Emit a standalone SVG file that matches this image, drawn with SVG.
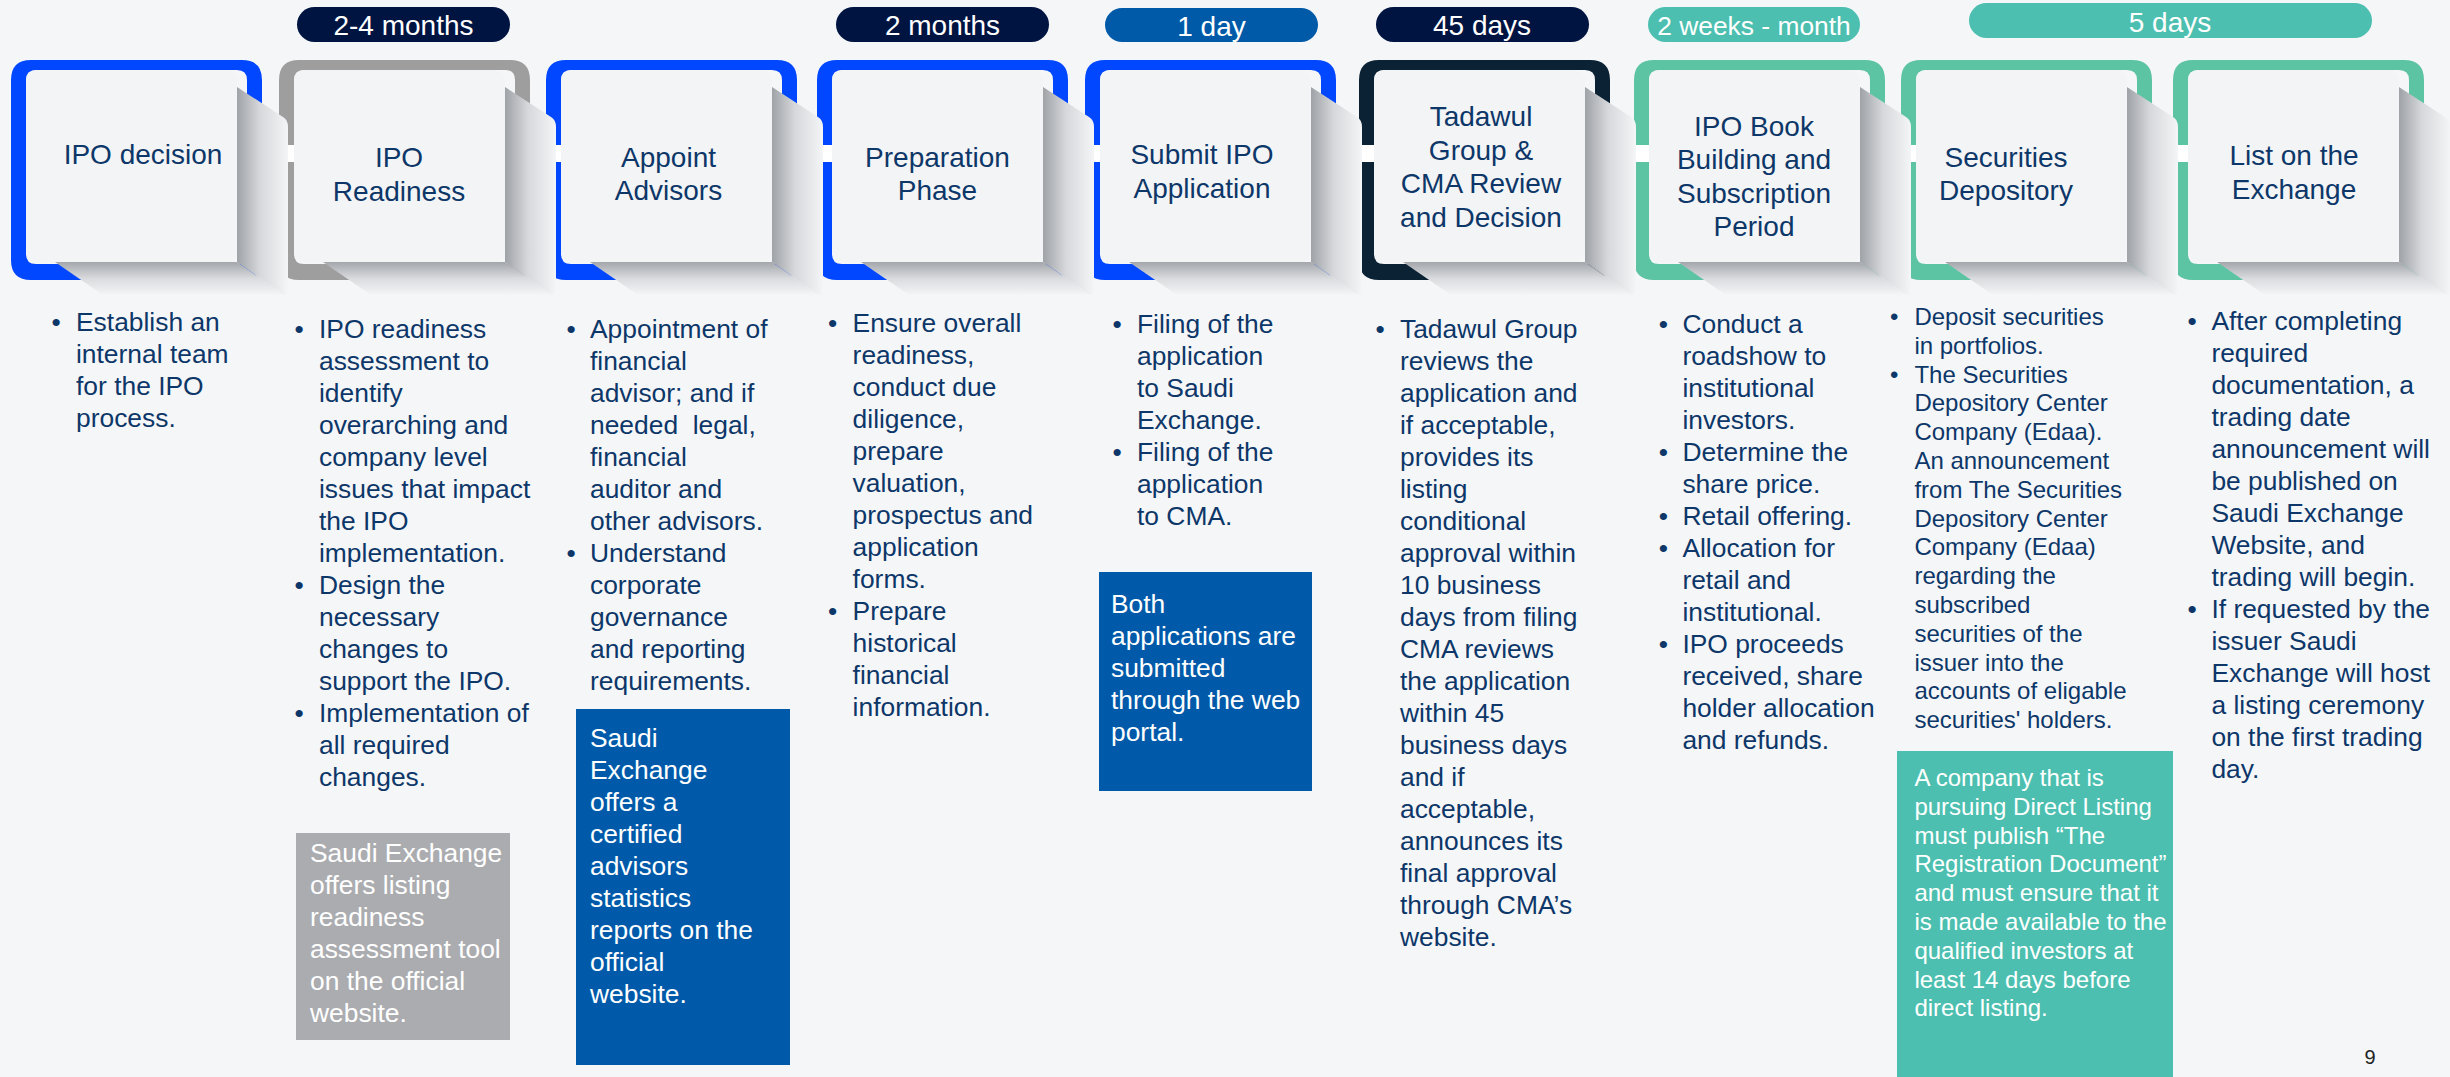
<svg xmlns="http://www.w3.org/2000/svg" xmlns:xlink="http://www.w3.org/1999/xlink" width="2450" height="1077" viewBox="0 0 2450 1077">
<style>
.f{font-family:"Liberation Sans",Arial,sans-serif}
.title{font-size:28px;fill:#0d3768;text-anchor:middle}
.b{font-size:26.4px;fill:#0d3768}
.s{font-size:24px;fill:#0d3768}
.bul{text-anchor:middle}
.w{fill:#ffffff}
.pt{font-size:28px;fill:#ffffff;text-anchor:middle}
.card{fill:#f3f4f6}
</style>
<defs>
<linearGradient id="gR" x1="0" y1="0" x2="1" y2="0">
<stop offset="0" stop-color="#9fa2a7"/>
<stop offset="0.45" stop-color="#d6d8db"/>
<stop offset="1" stop-color="#f4f5f7"/>
</linearGradient>
<linearGradient id="gB" x1="0" y1="0" x2="0" y2="1">
<stop offset="0" stop-color="#a3a6ab"/>
<stop offset="0.5" stop-color="#d9dbde"/>
<stop offset="1" stop-color="#f4f5f7"/>
</linearGradient>
<path id="frame" fill-rule="evenodd" d="M20,60 H231 Q251,60 251,80 V260 Q251,280 231,280 H20 Q0,280 0,260 V80 Q0,60 20,60 Z M25,70 H226 Q236,70 236,80 V254 Q236,264 226,264 H25 Q15,264 15,254 V80 Q15,70 25,70 Z"/>
<path id="shR" fill="url(#gR)" d="M226,87 L272,117 Q277,120 277,127 L277,284 Q277,295 273,295 L226,262 Z"/>
<path id="shB" fill="url(#gB)" d="M44,262 L226,262 L273,295 L92,295 Z"/>
<rect id="cardR" class="card" x="15" y="70" width="211" height="192" rx="10"/>
</defs>
<rect x="0" y="0" width="2450" height="1077" fill="#f5f6f8"/>

<g id="durations">
<g id="pill-2-4-months"><rect x="297" y="7" width="213" height="35" rx="17.5" fill="#001442"/><text class="f pt" x="403.5" y="35">2-4 months</text></g>
<g id="pill-2-months"><rect x="836" y="7" width="213" height="35" rx="17.5" fill="#001442"/><text class="f pt" x="942.5" y="35">2 months</text></g>
<g id="pill-1-day"><rect x="1105" y="8" width="213" height="34" rx="17" fill="#005aa8"/><text class="f pt" x="1211.5" y="35.5">1 day</text></g>
<g id="pill-45-days"><rect x="1376" y="7" width="213" height="35" rx="17.5" fill="#001442"/><text class="f pt" x="1482" y="35">45 days</text></g>
<g id="pill-2-weeks"><rect x="1648" y="7" width="212" height="35" rx="17.5" fill="#4cbfb0"/><text class="f pt" x="1754" y="35" style="font-size:26.4px">2 weeks - month</text></g>
<g id="pill-5-days"><rect x="1969" y="3" width="403" height="35" rx="17.5" fill="#4cbfb0"/><text class="f pt" x="2170" y="31.5">5 days</text></g>
</g>

<g id="node-list-exchange">
<use xlink:href="#frame" x="2173" fill="#5cc3a3"/><use xlink:href="#shR" x="2173"/><use xlink:href="#shB" x="2173"/><use xlink:href="#cardR" x="2173"/>
<text class="f title"><tspan x="2294" y="165">List on the</tspan><tspan x="2294" y="198.5">Exchange</tspan></text>
</g>
<g id="node-securities-depository">
<use xlink:href="#frame" x="1901" fill="#5cc3a3"/><use xlink:href="#shR" x="1901"/><use xlink:href="#shB" x="1901"/><use xlink:href="#cardR" x="1901"/>
<text class="f title"><tspan x="2006" y="166.7">Securities</tspan><tspan x="2006" y="199.5">Depository</tspan></text>
</g>
<g id="node-book-building">
<use xlink:href="#frame" x="1634" fill="#5cc3a3"/><use xlink:href="#shR" x="1634"/><use xlink:href="#shB" x="1634"/><use xlink:href="#cardR" x="1634"/>
<text class="f title"><tspan x="1754" y="135.7">IPO Book</tspan><tspan x="1754" y="169.2">Building and</tspan><tspan x="1754" y="202.7">Subscription</tspan><tspan x="1754" y="236.2">Period</tspan></text>
</g>
<g id="node-review-decision">
<use xlink:href="#frame" x="1359" fill="#0b2235"/><use xlink:href="#shR" x="1359"/><use xlink:href="#shB" x="1359"/><use xlink:href="#cardR" x="1359"/>
<text class="f title"><tspan x="1481" y="126">Tadawul</tspan><tspan x="1481" y="159.5">Group &amp;</tspan><tspan x="1481" y="193">CMA Review</tspan><tspan x="1481" y="226.5">and Decision</tspan></text>
</g>
<g id="node-submit-application">
<use xlink:href="#frame" x="1085" fill="#0047ff"/><use xlink:href="#shR" x="1085"/><use xlink:href="#shB" x="1085"/><use xlink:href="#cardR" x="1085"/>
<text class="f title"><tspan x="1202" y="164">Submit IPO</tspan><tspan x="1202" y="197.5">Application</tspan></text>
</g>
<g id="node-preparation">
<use xlink:href="#frame" x="817" fill="#0047ff"/><use xlink:href="#shR" x="817"/><use xlink:href="#shB" x="817"/><use xlink:href="#cardR" x="817"/>
<text class="f title"><tspan x="937.5" y="166.7">Preparation</tspan><tspan x="937.5" y="199.5">Phase</tspan></text>
</g>
<g id="node-appoint-advisors">
<use xlink:href="#frame" x="546" fill="#0047ff"/><use xlink:href="#shR" x="546"/><use xlink:href="#shB" x="546"/><use xlink:href="#cardR" x="546"/>
<text class="f title"><tspan x="668.5" y="166.7">Appoint</tspan><tspan x="668.5" y="199.5">Advisors</tspan></text>
</g>
<g id="node-ipo-readiness">
<use xlink:href="#frame" x="279" fill="#9e9e9e"/><use xlink:href="#shR" x="279"/><use xlink:href="#shB" x="279"/><use xlink:href="#cardR" x="279"/>
<text class="f title"><tspan x="399" y="166.7">IPO</tspan><tspan x="399" y="200.5">Readiness</tspan></text>
</g>
<g id="node-ipo-decision">
<use xlink:href="#frame" x="11" fill="#0047ff"/><use xlink:href="#shR" x="11"/><use xlink:href="#shB" x="11"/><use xlink:href="#cardR" x="11"/>
<text class="f title"><tspan x="143" y="164">IPO decision</tspan></text>
</g>

<g id="connectors" fill="#ffffff">
<rect x="288" y="145" width="6" height="17"/>
<rect x="556" y="145" width="5" height="17"/>
<rect x="823" y="145" width="9" height="17"/>
<rect x="1094" y="145" width="6" height="17"/>
<rect x="1362" y="145" width="12" height="17"/>
<rect x="1636" y="145" width="13" height="17"/>
<rect x="1911" y="145" width="5" height="17"/>
<rect x="2178" y="145" width="10" height="17"/>
</g>

<g id="details-1">
<text class="f b bul" x="56" y="331">•</text>
<text class="f b"><tspan x="76" y="331">Establish an</tspan><tspan x="76" y="363">internal team</tspan><tspan x="76" y="395">for the IPO</tspan><tspan x="76" y="427">process.</tspan></text>
</g>
<g id="details-2">
<text class="f b bul"><tspan x="299" y="338">•</tspan><tspan x="299" y="594">•</tspan><tspan x="299" y="722">•</tspan></text>
<text class="f b"><tspan x="319" y="338">IPO readiness</tspan><tspan x="319" y="370">assessment to</tspan><tspan x="319" y="402">identify</tspan><tspan x="319" y="434">overarching and</tspan><tspan x="319" y="466">company level</tspan><tspan x="319" y="498">issues that impact</tspan><tspan x="319" y="530">the IPO</tspan><tspan x="319" y="562">implementation.</tspan><tspan x="319" y="594">Design the</tspan><tspan x="319" y="626">necessary</tspan><tspan x="319" y="658">changes to</tspan><tspan x="319" y="690">support the IPO.</tspan><tspan x="319" y="722">Implementation of</tspan><tspan x="319" y="754">all required</tspan><tspan x="319" y="786">changes.</tspan></text>
</g>
<g id="note-readiness-tool">
<rect x="296" y="833" width="214" height="207" fill="#abacb0"/>
<text class="f b w"><tspan x="310" y="862">Saudi Exchange</tspan><tspan x="310" y="894">offers listing</tspan><tspan x="310" y="926">readiness</tspan><tspan x="310" y="958">assessment tool</tspan><tspan x="310" y="990">on the official</tspan><tspan x="310" y="1022">website.</tspan></text>
</g>
<g id="details-3">
<text class="f b bul"><tspan x="571" y="338">•</tspan><tspan x="571" y="562">•</tspan></text>
<text class="f b"><tspan x="590" y="338">Appointment of</tspan><tspan x="590" y="370">financial</tspan><tspan x="590" y="402">advisor; and if</tspan><tspan x="590" y="434">needed&#160; legal,</tspan><tspan x="590" y="466">financial</tspan><tspan x="590" y="498">auditor and</tspan><tspan x="590" y="530">other advisors.</tspan><tspan x="590" y="562">Understand</tspan><tspan x="590" y="594">corporate</tspan><tspan x="590" y="626">governance</tspan><tspan x="590" y="658">and reporting</tspan><tspan x="590" y="690">requirements.</tspan></text>
</g>
<g id="note-advisors-stats">
<rect x="576" y="709" width="214" height="356" fill="#005aa9"/>
<text class="f b w"><tspan x="590" y="747">Saudi</tspan><tspan x="590" y="779">Exchange</tspan><tspan x="590" y="811">offers a</tspan><tspan x="590" y="843">certified</tspan><tspan x="590" y="875">advisors</tspan><tspan x="590" y="907">statistics</tspan><tspan x="590" y="939">reports on the</tspan><tspan x="590" y="971">official</tspan><tspan x="590" y="1003">website.</tspan></text>
</g>
<g id="details-4">
<text class="f b bul"><tspan x="832.5" y="332">•</tspan><tspan x="832.5" y="620">•</tspan></text>
<text class="f b"><tspan x="852.6" y="332">Ensure overall</tspan><tspan x="852.6" y="364">readiness,</tspan><tspan x="852.6" y="396">conduct due</tspan><tspan x="852.6" y="428">diligence,</tspan><tspan x="852.6" y="460">prepare</tspan><tspan x="852.6" y="492">valuation,</tspan><tspan x="852.6" y="524">prospectus and</tspan><tspan x="852.6" y="556">application</tspan><tspan x="852.6" y="588">forms.</tspan><tspan x="852.6" y="620">Prepare</tspan><tspan x="852.6" y="652">historical</tspan><tspan x="852.6" y="684">financial</tspan><tspan x="852.6" y="716">information.</tspan></text>
</g>
<g id="details-5">
<text class="f b bul"><tspan x="1117" y="333">•</tspan><tspan x="1117" y="461">•</tspan></text>
<text class="f b"><tspan x="1137" y="333">Filing of the</tspan><tspan x="1137" y="365">application</tspan><tspan x="1137" y="397">to Saudi</tspan><tspan x="1137" y="429">Exchange.</tspan><tspan x="1137" y="461">Filing of the</tspan><tspan x="1137" y="493">application</tspan><tspan x="1137" y="525">to CMA.</tspan></text>
</g>
<g id="note-web-portal">
<rect x="1099" y="572" width="213" height="219" fill="#005aa9"/>
<text class="f b w"><tspan x="1111" y="613">Both</tspan><tspan x="1111" y="645">applications are</tspan><tspan x="1111" y="677">submitted</tspan><tspan x="1111" y="709">through the web</tspan><tspan x="1111" y="741">portal.</tspan></text>
</g>
<g id="details-6">
<text class="f b bul" x="1380" y="338">•</text>
<text class="f b"><tspan x="1400" y="338">Tadawul Group</tspan><tspan x="1400" y="370">reviews the</tspan><tspan x="1400" y="402">application and</tspan><tspan x="1400" y="434">if acceptable,</tspan><tspan x="1400" y="466">provides its</tspan><tspan x="1400" y="498">listing</tspan><tspan x="1400" y="530">conditional</tspan><tspan x="1400" y="562">approval within</tspan><tspan x="1400" y="594">10 business</tspan><tspan x="1400" y="626">days from filing</tspan><tspan x="1400" y="658">CMA reviews</tspan><tspan x="1400" y="690">the application</tspan><tspan x="1400" y="722">within 45</tspan><tspan x="1400" y="754">business days</tspan><tspan x="1400" y="786">and if</tspan><tspan x="1400" y="818">acceptable,</tspan><tspan x="1400" y="850">announces its</tspan><tspan x="1400" y="882">final approval</tspan><tspan x="1400" y="914">through CMA’s</tspan><tspan x="1400" y="946">website.</tspan></text>
</g>
<g id="details-7">
<text class="f b bul"><tspan x="1663.4" y="333">•</tspan><tspan x="1663.4" y="461">•</tspan><tspan x="1663.4" y="525">•</tspan><tspan x="1663.4" y="557">•</tspan><tspan x="1663.4" y="653">•</tspan></text>
<text class="f b"><tspan x="1682.4" y="333">Conduct a</tspan><tspan x="1682.4" y="365">roadshow to</tspan><tspan x="1682.4" y="397">institutional</tspan><tspan x="1682.4" y="429">investors.</tspan><tspan x="1682.4" y="461">Determine the</tspan><tspan x="1682.4" y="493">share price.</tspan><tspan x="1682.4" y="525">Retail offering.</tspan><tspan x="1682.4" y="557">Allocation for</tspan><tspan x="1682.4" y="589">retail and</tspan><tspan x="1682.4" y="621">institutional.</tspan><tspan x="1682.4" y="653">IPO proceeds</tspan><tspan x="1682.4" y="685">received, share</tspan><tspan x="1682.4" y="717">holder allocation</tspan><tspan x="1682.4" y="749">and refunds.</tspan></text>
</g>
<g id="details-8">
<text class="f s bul"><tspan x="1894.3" y="325">•</tspan><tspan x="1894.3" y="382.6">•</tspan></text>
<text class="f s"><tspan x="1914.4" y="325">Deposit securities</tspan><tspan x="1914.4" y="353.8">in portfolios.</tspan><tspan x="1914.4" y="382.6">The Securities</tspan><tspan x="1914.4" y="411.4">Depository Center</tspan><tspan x="1914.4" y="440.2">Company (Edaa).</tspan><tspan x="1914.4" y="469">An announcement</tspan><tspan x="1914.4" y="497.8">from The Securities</tspan><tspan x="1914.4" y="526.6">Depository Center</tspan><tspan x="1914.4" y="555.4">Company (Edaa)</tspan><tspan x="1914.4" y="584.2">regarding the</tspan><tspan x="1914.4" y="613">subscribed</tspan><tspan x="1914.4" y="641.8">securities of the</tspan><tspan x="1914.4" y="670.6">issuer into the</tspan><tspan x="1914.4" y="699.4">accounts of eligable</tspan><tspan x="1914.4" y="728.2">securities' holders.</tspan></text>
</g>
<g id="note-direct-listing">
<rect x="1897" y="751" width="276" height="326" fill="#4cbfb0"/>
<text class="f s w"><tspan x="1914.4" y="786">A company that is</tspan><tspan x="1914.4" y="814.8">pursuing Direct Listing</tspan><tspan x="1914.4" y="843.6">must publish “The</tspan><tspan x="1914.4" y="872.4">Registration Document”</tspan><tspan x="1914.4" y="901.2">and must ensure that it</tspan><tspan x="1914.4" y="930">is made available to the</tspan><tspan x="1914.4" y="958.8">qualified investors at</tspan><tspan x="1914.4" y="987.6">least 14 days before</tspan><tspan x="1914.4" y="1016.4">direct listing.</tspan></text>
</g>
<g id="details-9">
<text class="f b bul"><tspan x="2192" y="330">•</tspan><tspan x="2192" y="618">•</tspan></text>
<text class="f b"><tspan x="2211.4" y="330">After completing</tspan><tspan x="2211.4" y="362">required</tspan><tspan x="2211.4" y="394">documentation, a</tspan><tspan x="2211.4" y="426">trading date</tspan><tspan x="2211.4" y="458">announcement will</tspan><tspan x="2211.4" y="490">be published on</tspan><tspan x="2211.4" y="522">Saudi Exchange</tspan><tspan x="2211.4" y="554">Website, and</tspan><tspan x="2211.4" y="586">trading will begin.</tspan><tspan x="2211.4" y="618">If requested by the</tspan><tspan x="2211.4" y="650">issuer Saudi</tspan><tspan x="2211.4" y="682">Exchange will host</tspan><tspan x="2211.4" y="714">a listing ceremony</tspan><tspan x="2211.4" y="746">on the first trading</tspan><tspan x="2211.4" y="778">day.</tspan></text>
</g>
<text id="page-number" class="f" x="2370" y="1064" font-size="20" fill="#222222" text-anchor="middle">9</text>
</svg>
